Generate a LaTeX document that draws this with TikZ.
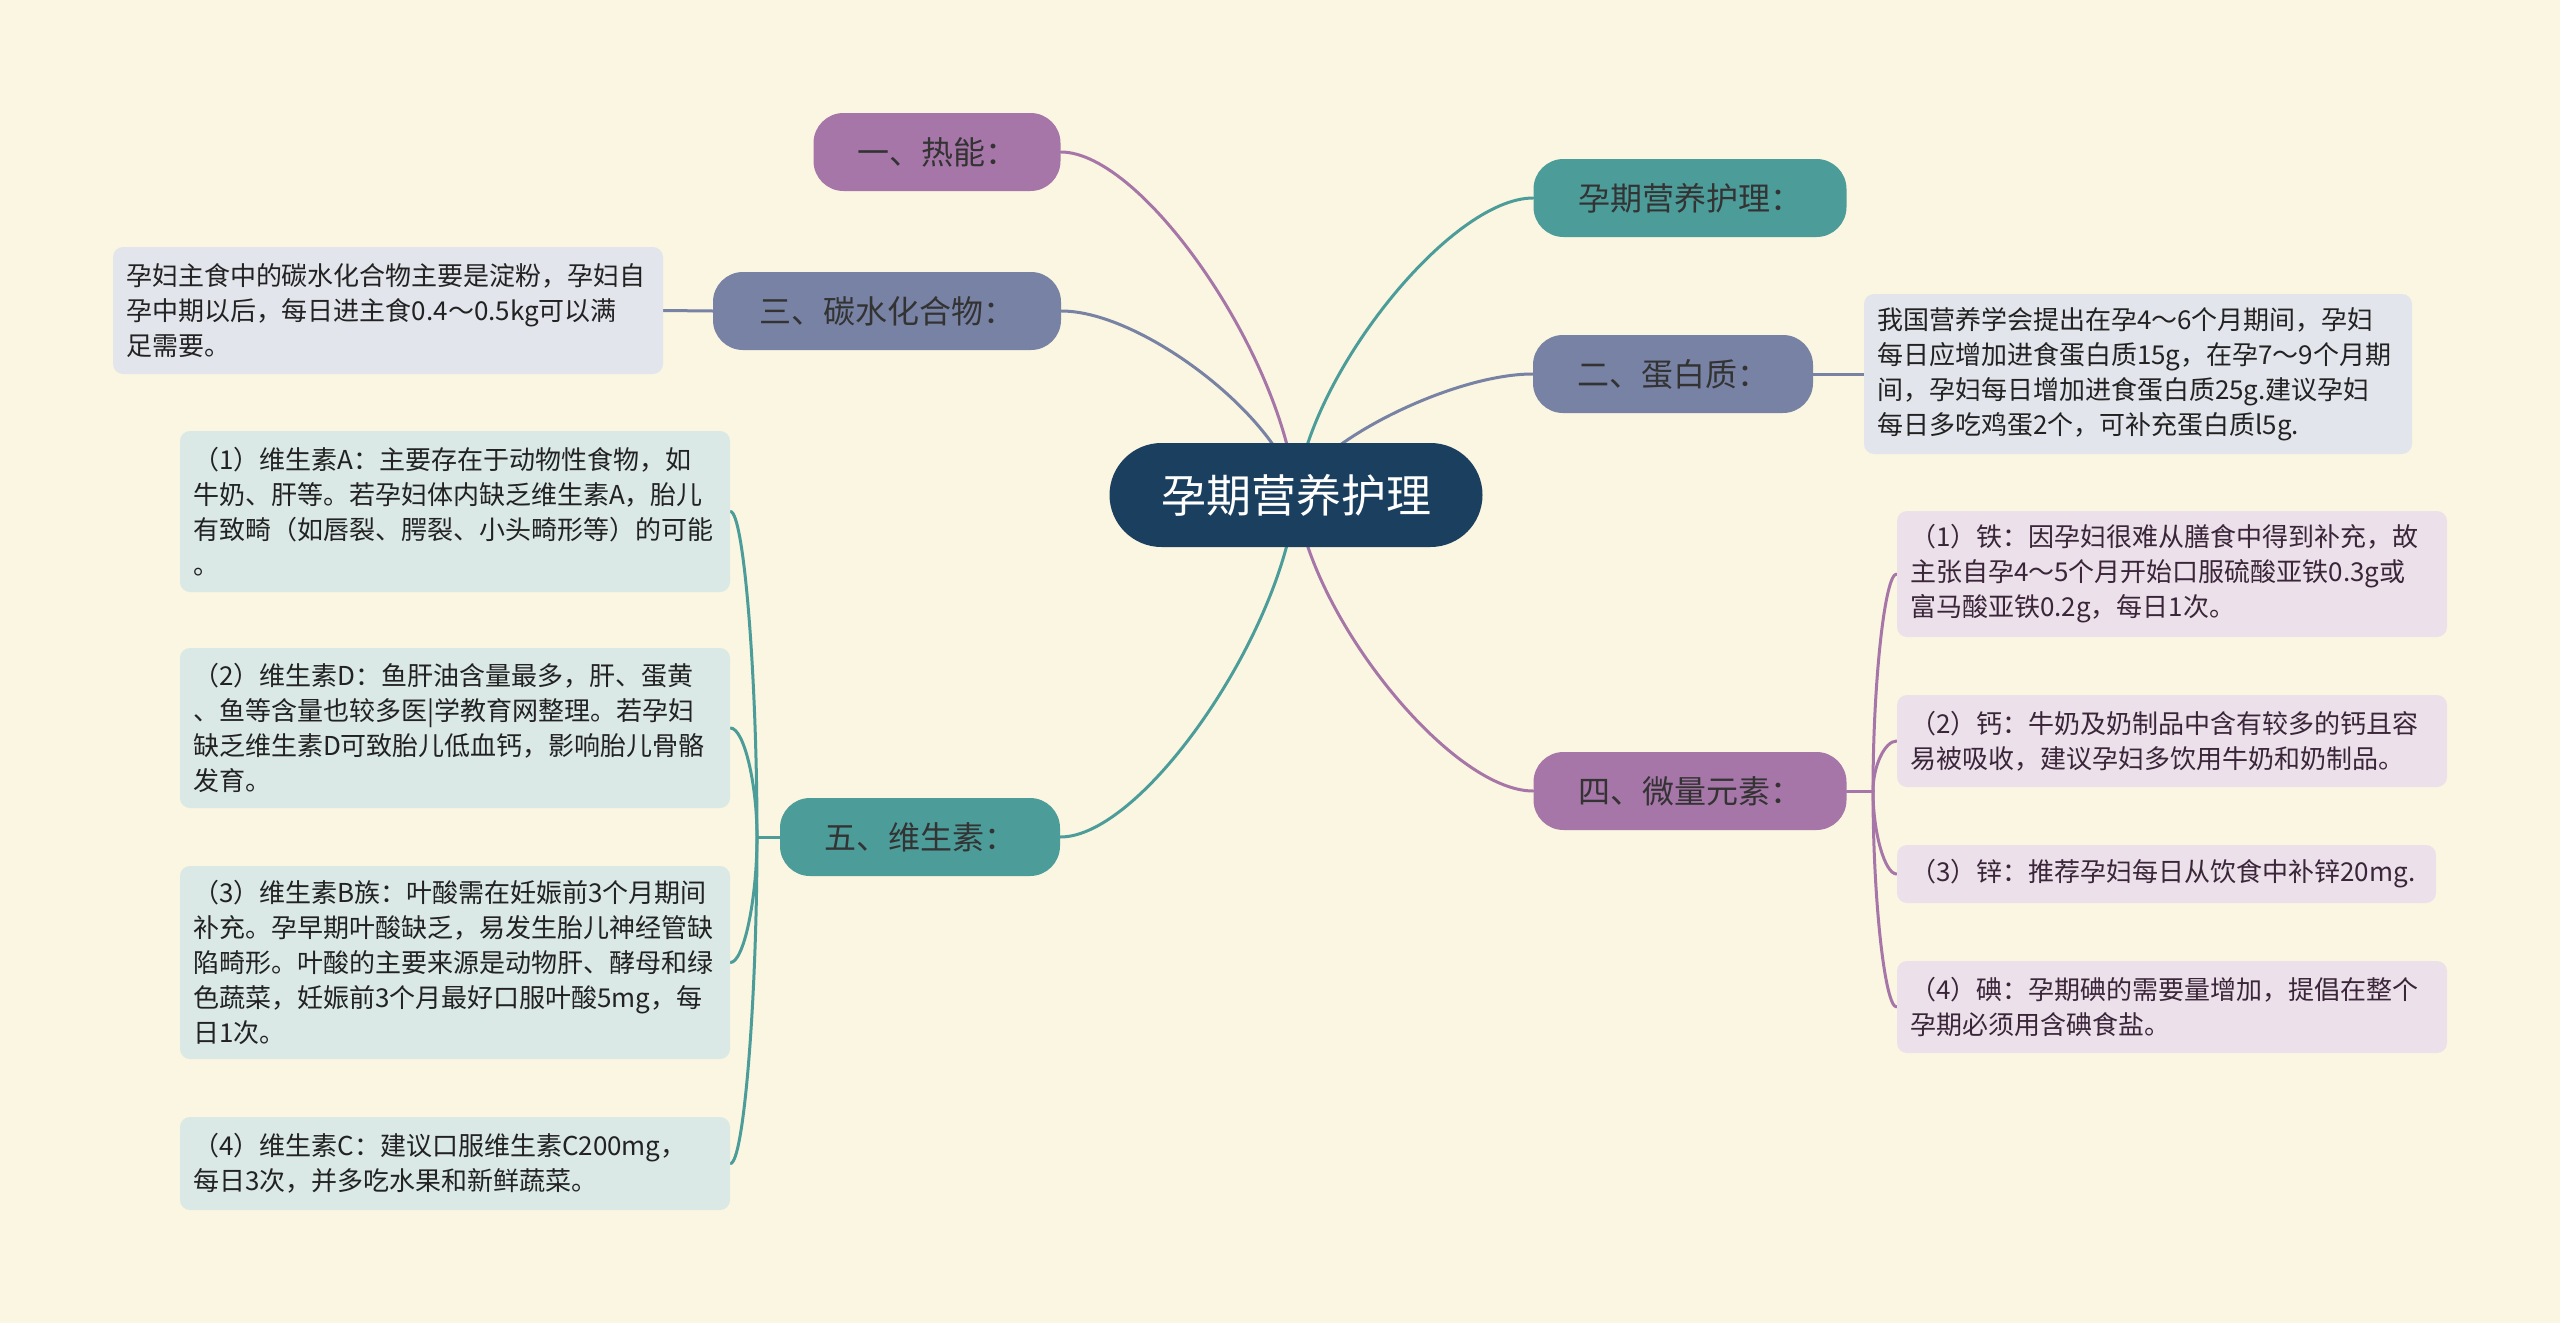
\documentclass[tikz,border=0pt]{standalone}
\usepackage{fontspec}
\setmainfont{Noto Sans CJK SC}
\usetikzlibrary{calc,backgrounds}
\setlength\parindent{0pt}
\definecolor{cBg}{HTML}{FBF6E1}
\definecolor{cRoot}{HTML}{1B3F5E}
\definecolor{cPurp}{HTML}{A676A8}
\definecolor{cSlate}{HTML}{7882A4}
\definecolor{cTeal}{HTML}{4C9D9A}
\definecolor{cGreyBox}{HTML}{E3E5EC}
\definecolor{cTealBox}{HTML}{DAE8E6}
\definecolor{cPurpBox}{HTML}{ECE1EB}
\definecolor{cLText}{HTML}{333333}
\definecolor{cDark}{HTML}{222222}
\definecolor{cPurpText}{HTML}{3A2539}
\tikzset{
  rootnode/.style={fill=cRoot, rounded corners=26pt, minimum width=186.5pt, minimum height=52pt,
    inner sep=0pt, text=white, font=\fontsize{22.5pt}{26pt}\selectfont},
  lvone/.style={rounded corners=15pt, minimum height=39pt, inner sep=0pt, text=cLText,
    font=\fontsize{16pt}{19pt}\selectfont},
  tbox/.style={rounded corners=5pt, inner xsep=6.5pt, inner ysep=3pt, text width=262pt,
    align=left, font=\fontsize{13pt}{17.5pt}\selectfont},
  greybox/.style={tbox, fill=cGreyBox, text=cDark},
  tealbox/.style={tbox, fill=cTealBox, text=cDark},
  purpbox/.style={tbox, fill=cPurpBox, text=cPurpText},
  edge/.style={line width=1.5pt, line cap=round}
}
\newcommand\rootlink[2]{%
  \draw[edge, #2] let \p1=(#1), \p2=(root.center) in
    (\p1) .. controls ({\x1+0.35*(\x2-\x1)},\y1) and ({\x2-0.05*(\x2-\x1)},{\y1+0.6*(\y2-\y1)}) .. (\p2);}
\newcommand\leaflink[3]{%
  \draw[edge, #3] let \p1=(#1), \p2=(#2) in
    (\p1) .. controls (\x1,{\y2+0.5*(\y1-\y2)}) and ({\x2+0.5*(\x1-\x2)},\y2) .. (\p2);}
\begin{document}
\begin{tikzpicture}[x=0.5pt,y=-0.5pt]
\useasboundingbox (0,0) rectangle (2560,1323);

% root
\node[rootnode] (root) at (1296,495) {孕期营养护理};

% level one
\node[lvone, fill=cPurp, minimum width=123.5pt] (n1) at (937,152) {一、热能：};
\node[lvone, fill=cSlate, minimum width=174pt] (n3) at (887,311) {三、碳水化合物：};
\node[lvone, fill=cTeal, minimum width=156.5pt] (nT) at (1690,198) {孕期营养护理：};
\node[lvone, fill=cSlate, minimum width=140pt] (n2) at (1673,374) {二、蛋白质：};
\node[lvone, fill=cTeal, minimum width=140pt] (n5) at (920,837) {五、维生素：};
\node[lvone, fill=cPurp, minimum width=156.5pt] (n4) at (1690,791) {四、微量元素：};

% text boxes
\node[greybox, minimum height=63.5pt] (t3) at (388,310.5)
  {孕妇主食中的碳水化合物主要是淀粉，孕妇自\\孕中期以后，每日进主食0.4～0.5kg可以满\\足需要。};
\node[greybox, text width=261pt, minimum height=80pt] (t2) at (2138,374)
  {我国营养学会提出在孕4～6个月期间，孕妇\\每日应增加进食蛋白质15g，在孕7～9个月期\\间，孕妇每日增加进食蛋白质25g.建议孕妇\\每日多吃鸡蛋2个，可补充蛋白质l5g.};

\node[tealbox, minimum height=80.5pt] (v1) at (455,511.5)
  {（1）维生素A：主要存在于动物性食物，如\\牛奶、肝等。若孕妇体内缺乏维生素A，胎儿\\有致畸（如唇裂、腭裂、小头畸形等）的可能\\。};
\node[tealbox, minimum height=80pt] (v2) at (455,728)
  {（2）维生素D：鱼肝油含量最多，肝、蛋黄\\、鱼等含量也较多医|学教育网整理。若孕妇\\缺乏维生素D可致胎儿低血钙，影响胎儿骨骼\\发育。};
\node[tealbox, minimum height=96.5pt] (v3) at (455,962.5)
  {（3）维生素B族：叶酸需在妊娠前3个月期间\\补充。孕早期叶酸缺乏，易发生胎儿神经管缺\\陷畸形。叶酸的主要来源是动物肝、酵母和绿\\色蔬菜，妊娠前3个月最好口服叶酸5mg，每\\日1次。};
\node[tealbox, minimum height=46.5pt] (v4) at (455,1163.5)
  {（4）维生素C：建议口服维生素C200mg，\\每日3次，并多吃水果和新鲜蔬菜。};

\node[purpbox, minimum height=63pt] (e1) at (2172,574)
  {（1）铁：因孕妇很难从膳食中得到补充，故\\主张自孕4～5个月开始口服硫酸亚铁0.3g或\\富马酸亚铁0.2g，每日1次。};
\node[purpbox, minimum height=46pt] (e2) at (2172,741)
  {（2）钙：牛奶及奶制品中含有较多的钙且容\\易被吸收，建议孕妇多饮用牛奶和奶制品。};
\node[purpbox, text width=256.5pt, minimum height=29pt] (e3) at (2166.5,874)
  {（3）锌：推荐孕妇每日从饮食中补锌20mg.};
\node[purpbox, minimum height=46pt] (e4) at (2172,1007)
  {（4）碘：孕期碘的需要量增加，提倡在整个\\孕期必须用含碘食盐。};

\coordinate (jl) at (757,837);
\coordinate (jr) at (1873,791);

\begin{pgfonlayer}{background}
  \fill[cBg] (0,0) rectangle (2560,1323);
  \rootlink{n1.east}{cPurp}
  \rootlink{n3.east}{cSlate}
  \rootlink{n5.east}{cTeal}
  \rootlink{nT.west}{cTeal}
  \rootlink{n2.west}{cSlate}
  \rootlink{n4.west}{cPurp}
  \draw[edge, cSlate] (n3.west) -- (t3.east);
  \draw[edge, cSlate] (n2.east) -- (t2.west);
  \draw[edge, cTeal] (n5.west) -- (jl);
  \leaflink{jl}{v1.east}{cTeal}
  \leaflink{jl}{v2.east}{cTeal}
  \leaflink{jl}{v3.east}{cTeal}
  \leaflink{jl}{v4.east}{cTeal}
  \draw[edge, cPurp] (n4.east) -- (jr);
  \leaflink{jr}{e1.west}{cPurp}
  \leaflink{jr}{e2.west}{cPurp}
  \leaflink{jr}{e3.west}{cPurp}
  \leaflink{jr}{e4.west}{cPurp}
\end{pgfonlayer}
\end{tikzpicture}
\end{document}
